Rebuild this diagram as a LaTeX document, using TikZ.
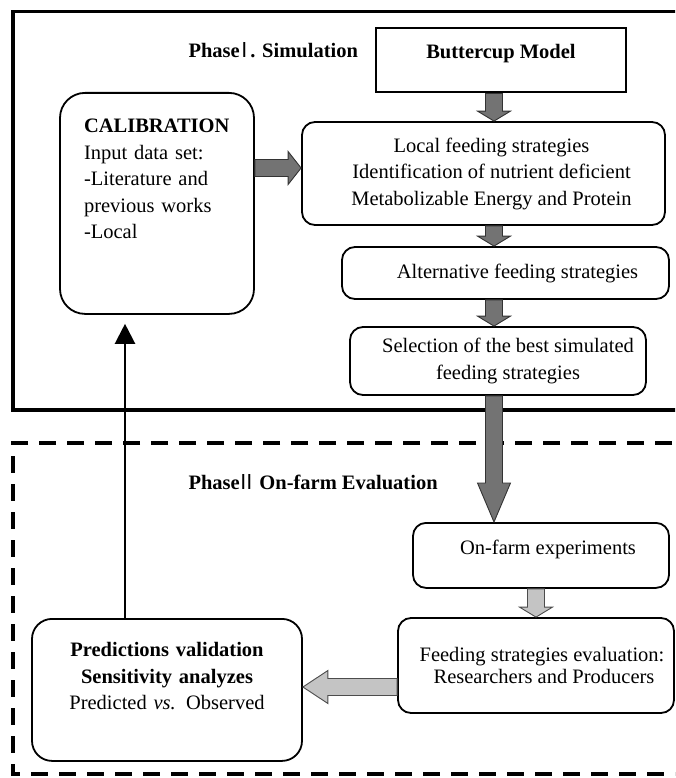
\documentclass[tikz,border=0pt]{standalone}
\usepackage{fontspec}
\setmainfont{Liberation Serif}
\newfontfamily\cjk{Noto Sans CJK SC}
\usepackage{xcolor}
\definecolor{arrowDark} {HTML}{737373}
\definecolor{arrowLight}{HTML}{C4C4C4}
\usetikzlibrary{arrows.meta, positioning, calc}

% fat outlined arrow: [style]{from}{to}{head length}
\newcommand{\blockarrow}[4][]{%
  \coordinate (ba-s) at (#2);
  \coordinate (ba-t) at (#3);
  \coordinate (ba-h) at ($(ba-t)!#4!(ba-s)$);
  \draw[#1] ($(ba-s)!8.5pt!90:(ba-t)$) -- ($(ba-h)!8.5pt!90:(ba-t)$)
    -- ($(ba-h)!16.5pt!90:(ba-t)$) -- (ba-t)
    -- ($(ba-h)!16.5pt!-90:(ba-t)$) -- ($(ba-h)!8.5pt!-90:(ba-t)$)
    -- ($(ba-s)!8.5pt!-90:(ba-t)$) -- cycle;}
% roman numeral from the CJK font, side bearings trimmed
\newcommand{\romnum}[2][6pt]{\kern-#1{\cjk\mdseries #2}\kern-#1}

\begin{document}
\begin{tikzpicture}[x=1pt, y=-1pt,
    every node/.style={font=\fontsize{20.5}{26.5}\selectfont},
    box/.style={draw, line width=1.8pt, rounded corners=13pt, fill=white,
                align=center, inner sep=0pt},
    bigbox/.style={box, rounded corners=22pt, anchor=north, inner ysep=0pt},
    head/.style={font=\fontsize{20.5}{26.5}\selectfont\bfseries},
    frame/.style={line width=3.8pt},
    darkarr/.style={draw=black!80, fill=arrowDark, line width=0.9pt},
    lightarr/.style={draw=black!70, fill=arrowLight, line width=0.9pt},
    back/.style={line width=2.2pt, -{Triangle[width=20pt,length=20pt]}}
]
\useasboundingbox (0,0) rectangle (675,778);
% Phase frames, cut off at the right edge
\begin{scope}
  \clip (0,0) rectangle (675,778);
  \draw[frame] (700,11.5) -| (13,410) -- (700,410);
  \draw[frame, dash pattern=on 17pt off 11pt] (700,443) -| (13,774) -- (700,774);
\end{scope}
% Phase I
\node[head, anchor=west] (phase1) at (185,50) {Phase\romnum[5pt]{Ⅰ}. Simulation};
\node[box, sharp corners, line width=2.5pt, anchor=north, minimum width=250pt,
      text height=30pt, text depth=34pt] (buttercup) at (501,27) {\bfseries Buttercup Model};
\node[bigbox, rounded corners=25pt, align=left, text width=146pt, inner xsep=24pt,
      text height=40pt, text depth=181pt] (calib) at (157,92)
     {\textbf{CALIBRATION}\\Input data set:\\-Literature and\\previous works\\-Local};
\node[box, minimum width=363pt, minimum height=103pt] (local) at (483.5,173.5)
     {\hspace*{16pt}Local feeding strategies\\\hspace*{16pt}Identification of nutrient deficient\\\hspace*{16pt}Metabolizable Energy and Protein};
\node[box, minimum width=327pt, minimum height=52pt] (alt) at (505.5,273)
     {\hspace*{24pt}Alternative feeding strategies};
\node[box, minimum width=296pt, minimum height=68pt] (sel) at (498,361)
     {\hspace*{20pt}Selection of the best simulated\\\hspace*{20pt}feeding strategies};
% Phase II
\node[head, anchor=west] (phase2) at (185,482) {Phase\romnum[3pt]{Ⅱ}\ On-farm Evaluation};
\node[box, minimum width=256pt, minimum height=65pt, text height=32pt, text depth=33pt,
      anchor=north] (onfarm) at (541,522) {\hspace*{14pt}On-farm experiments};
\node[box, minimum width=276pt, minimum height=95pt] (feed) at (536,665.5)
     {\hspace*{12pt}Feeding strategies evaluation:\\[-5pt]\hspace*{16pt}Researchers and Producers};
\node[bigbox, rounded corners=20pt, text width=230pt, inner xsep=20pt,
      text height=38pt, text depth=104pt] (pred) at (167,618)
     {\textbf{Predictions validation}\\\textbf{Sensitivity analyzes}\\Predicted \textit{vs.} Observed};
% Arrows
\coordinate (col) at (494,0);
\coordinate (col2) at (536,0);
\coordinate (calrow) at (0,168);
\coordinate (predrow) at (0,687);
\coordinate (backcol) at (125,0);
\blockarrow[darkarr]{buttercup.south -| col}{local.north -| col}{10pt}
\blockarrow[darkarr]{calib.east |- calrow}{local.west |- calrow}{13pt}
\blockarrow[darkarr]{local.south -| col}{alt.north -| col}{10pt}
\blockarrow[darkarr]{alt.south -| col}{sel.north -| col}{10pt}
\blockarrow[darkarr]{sel.south -| col}{onfarm.north -| col}{39pt}
\blockarrow[lightarr]{onfarm.south -| col2}{feed.north -| col2}{10pt}
\blockarrow[lightarr]{feed.west |- predrow}{pred.east |- predrow}{25pt}
\draw[back, shorten >=9pt] (pred.north -| backcol) -- (calib.south -| backcol);
\end{tikzpicture}
\end{document}
